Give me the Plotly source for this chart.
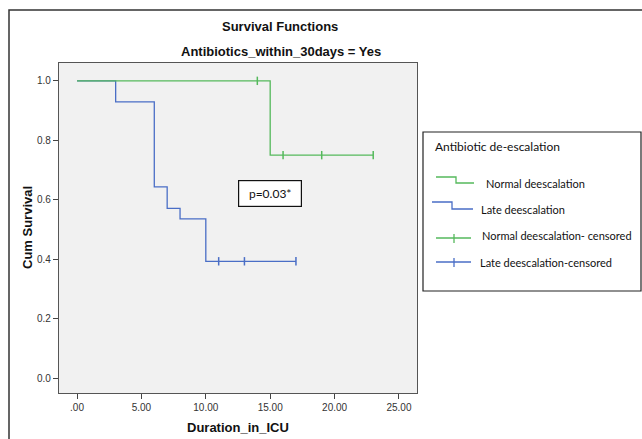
import plotly.graph_objects as go

# ---- data ----
normal_x = [0, 15, 23]
normal_y = [1.0, 0.75, 0.75]
late_x = [0, 3, 6, 7, 8, 10, 17]
late_y = [1.0, 0.929, 0.643, 0.571, 0.536, 0.393, 0.393]
normal_cens_x = [14, 16, 19, 23]
normal_cens_y = [1.0, 0.75, 0.75, 0.75]
late_cens_x = [11, 13, 17]
late_cens_y = [0.393, 0.393, 0.393]
x_ticks = [0, 5, 10, 15, 20, 25]
x_tick_text = [".00", "5.00", "10.00", "15.00", "20.00", "25.00"]
y_ticks = [0.0, 0.2, 0.4, 0.6, 0.8, 1.0]
y_tick_text = ["0.0", "0.2", "0.4", "0.6", "0.8", "1.0"]
legend_labels = ["Normal deescalation", "Late deescalation",
                 "Normal deescalation- censored", "Late deescalation-censored"]

GREEN = "#55b95c"
BLUE = "#4a6ec6"
SANS = "Liberation Sans, Arial, sans-serif"
LEGF = "Lato, Open Sans, sans-serif"

W, H = 642, 439
L, R, T, B = 59, 417, 63, 393


def px(x):
    return (x - L) / (R - L)


def py(y):
    return (B - y) / (B - T)


fig = go.Figure()
fig.add_trace(go.Scatter(x=late_x, y=late_y, mode="lines", line_shape="hv",
                         line=dict(color=BLUE, width=1.3), showlegend=False))
fig.add_trace(go.Scatter(x=normal_x, y=normal_y, mode="lines", line_shape="hv",
                         line=dict(color=GREEN, width=1.3), showlegend=False))
fig.add_trace(go.Scatter(x=normal_cens_x, y=normal_cens_y, mode="markers",
                         marker=dict(symbol="line-ns", size=6,
                                     line=dict(color=GREEN, width=1.5)),
                         showlegend=False))
fig.add_trace(go.Scatter(x=late_cens_x, y=late_cens_y, mode="markers",
                         marker=dict(symbol="line-ns", size=6,
                                     line=dict(color=BLUE, width=1.5)),
                         showlegend=False))

shapes = []
# outer frame
shapes.append(dict(type="rect", xref="paper", yref="paper",
                   x0=px(9), x1=px(660), y0=py(460), y1=py(10),
                   line=dict(color="#333333", width=1.5), layer="below"))
# legend box
shapes.append(dict(type="rect", xref="paper", yref="paper",
                   x0=px(423), x1=px(641), y0=py(291), y1=py(132),
                   line=dict(color="#222222", width=1.2), fillcolor="white"))
# legend symbols: step lines
shapes.append(dict(type="path", xref="paper", yref="paper",
                   path=f"M {px(436)},{py(177)} L {px(456)},{py(177)} L {px(456)},{py(183)} L {px(474)},{py(183)}",
                   line=dict(color=GREEN, width=1.3)))
shapes.append(dict(type="path", xref="paper", yref="paper",
                   path=f"M {px(432)},{py(202)} L {px(452)},{py(202)} L {px(452)},{py(209)} L {px(473)},{py(209)}",
                   line=dict(color=BLUE, width=1.3)))
# legend symbols: censored
for yy, col in [(238, GREEN), (262, BLUE)]:
    shapes.append(dict(type="line", xref="paper", yref="paper",
                       x0=px(436), x1=px(471), y0=py(yy), y1=py(yy),
                       line=dict(color=col, width=1.3)))
    shapes.append(dict(type="line", xref="paper", yref="paper",
                       x0=px(454), x1=px(454), y0=py(yy - 4), y1=py(yy + 5),
                       line=dict(color=col, width=1.3)))

annotations = []


def ann(text, x, y, font, xanchor="center", **kw):
    annotations.append(dict(text=text, xref="paper", yref="paper",
                            x=px(x), y=py(y), showarrow=False,
                            xanchor=xanchor, yanchor="middle",
                            font=font, **kw))


ann("<b>Survival Functions</b>", 280, 27, dict(family=SANS, size=13, color="#111111"))
ann("<b>Antibiotics_within_30days = Yes</b>", 281, 52, dict(family=SANS, size=13, color="#111111"))
ann("<b>Duration_in_ICU</b>", 238, 427, dict(family=SANS, size=13, color="#111111"))
ann("<b>Cum Survival</b>", 27, 228, dict(family=SANS, size=13, color="#111111"), textangle=-90)
ann("p=0.03*", 270, 193, dict(family=LEGF, size=12, color="#111111"),
    bordercolor="#111111", borderwidth=1.2, borderpad=5, bgcolor="white", width=52)
ann("Antibiotic de-escalation", 433, 146, dict(family=LEGF, size=12, color="#111111"), xanchor="left")
leg_pos = [(484, 183), (479, 209), (480, 236), (478, 262)]
for lab, (lx, ly) in zip(legend_labels, leg_pos):
    ann(lab, lx, ly, dict(family=LEGF, size=11, color="#111111"), xanchor="left")

fig.update_layout(
    width=W, height=H,
    margin=dict(l=L, r=W - R, t=T, b=H - B, pad=0, autoexpand=False),
    paper_bgcolor="white",
    plot_bgcolor="#f1f1f1",
    showlegend=False,
    shapes=shapes,
    annotations=annotations,
    xaxis=dict(range=[-1.40, 26.40], tickvals=x_ticks, ticktext=x_tick_text,
               showgrid=False, zeroline=False, showline=True, mirror=True,
               linecolor="#555555", linewidth=1.2, ticks="outside", ticklen=5,
               tickcolor="#444444", automargin=False,
               tickfont=dict(family=SANS, size=10, color="#333333")),
    yaxis=dict(range=[-0.050, 1.060], tickvals=y_ticks, ticktext=y_tick_text,
               showgrid=False, zeroline=False, showline=True, mirror=True,
               linecolor="#555555", linewidth=1.2, ticks="outside", ticklen=5,
               tickcolor="#444444", automargin=False,
               tickfont=dict(family=SANS, size=10, color="#333333")),
)

fig.write_html("out.html", config={"displayModeBar": False},
               post_script="document.body.style.margin='0';")
